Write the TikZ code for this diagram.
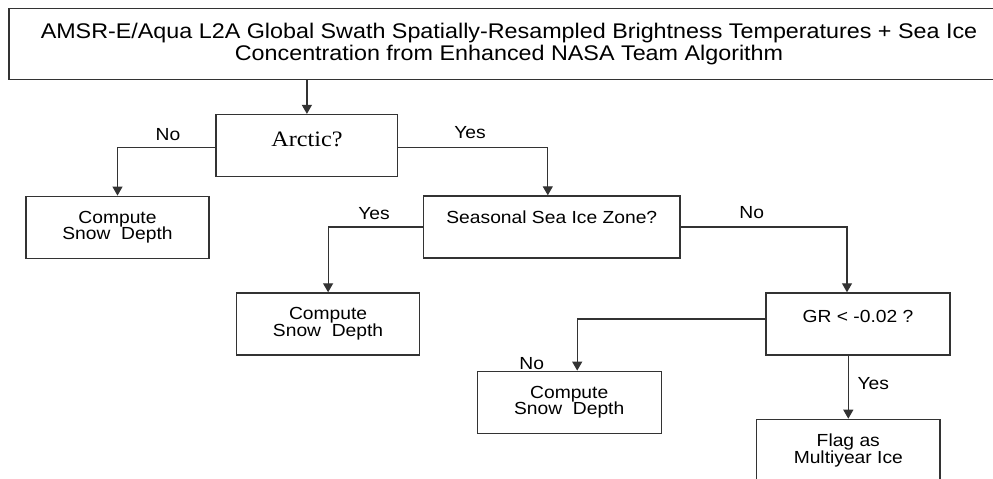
\documentclass[tikz,border=0pt]{standalone}
\usepackage{fontspec}
\setmainfont{Liberation Sans}[FakeStretch=1.1]
\newfontfamily\arcticfont{Liberation Serif}[FakeStretch=1.1]
\usetikzlibrary{arrows.meta,positioning}

\begin{document}
\begin{tikzpicture}[x=1pt, y=-1pt, >={Triangle[length=9pt,width=10pt]}]
\tikzset{
  base/.style={draw=black!80, line width=1.2pt, align=center, inner sep=0pt, font=\fontsize{17.5}{16.6}\selectfont},
  title/.style={base, minimum width=1000pt, minimum height=71pt, font=\fontsize{21.2}{22}\selectfont},
  process/.style={base, minimum width=183pt, minimum height=62pt},
  query/.style={base, minimum height=62pt, text height=12.5pt, text depth=#1},
  answer/.style={inner sep=0pt, font=\fontsize{17.5}{17.5}\selectfont},
  arrow/.style={->, draw=black!80, line width=1.2pt},
}
\useasboundingbox (0,0) rectangle (993,479);

% Input
\node (title) [title] at (509,43.7) {AMSR-E/Aqua L2A Global Swath Spatially-Resampled Brightness Temperatures + Sea Ice\\Concentration from Enhanced NASA Team Algorithm};

% Decisions
\node (arctic) [query=11.6pt, text height=14pt, minimum width=181.7pt, font=\arcticfont\fontsize{22}{22}\selectfont] at (306.9,145.5) {Arctic?};
\node (season) [query=18.5pt, minimum width=256.4pt] at (551.8,226.9) {Seasonal Sea Ice Zone?};
\node (gr) [query=14.9pt, minimum width=184pt] at (858,323.9) {GR {<} -0.02 ?};

% Outcomes
\node (comp1) [process] at (117.5,227.2) {Compute\\Snow\ \ Depth};
\node (comp2) [process] at (328.1,323.9) {Compute\\Snow\ \ Depth};
\node (comp3) [process, minimum width=184pt] at (569.2,402.2) {Compute\\Snow\ \ Depth};
\node (flag) [process, minimum width=183.3pt] at (848.3,450.3) {Flag as\\Multiyear Ice};

% Connectors
\draw[arrow] (title.south -| arctic.north) -- (arctic.north);
\draw[arrow] ([yshift=-2pt]arctic.west) -| (comp1.north);
\draw[arrow] ([yshift=-2pt]arctic.east) -| ([xshift=-4pt]season.north);
\draw[arrow] (season.west) -| (comp2.north);
\draw[arrow] (season.east) -| ([xshift=-11pt]gr.north);
\draw[arrow] ([yshift=5pt]gr.west) -| ([xshift=8pt]comp3.north);
\draw[arrow] (gr.south -| flag.north) -- (flag.north);

% Branch labels
\node (no1) [answer] at (168,135) {No};
\node (yes1) [answer] at (470,133) {Yes};
\node (yes2) [answer] at (374,214) {Yes};
\node (no2) [answer] at (751.7,213) {No};
\node (no3) [answer] at (531.7,363.3) {No};
\node (yes3) [answer] at (873.3,383.3) {Yes};

\end{tikzpicture}
\end{document}
